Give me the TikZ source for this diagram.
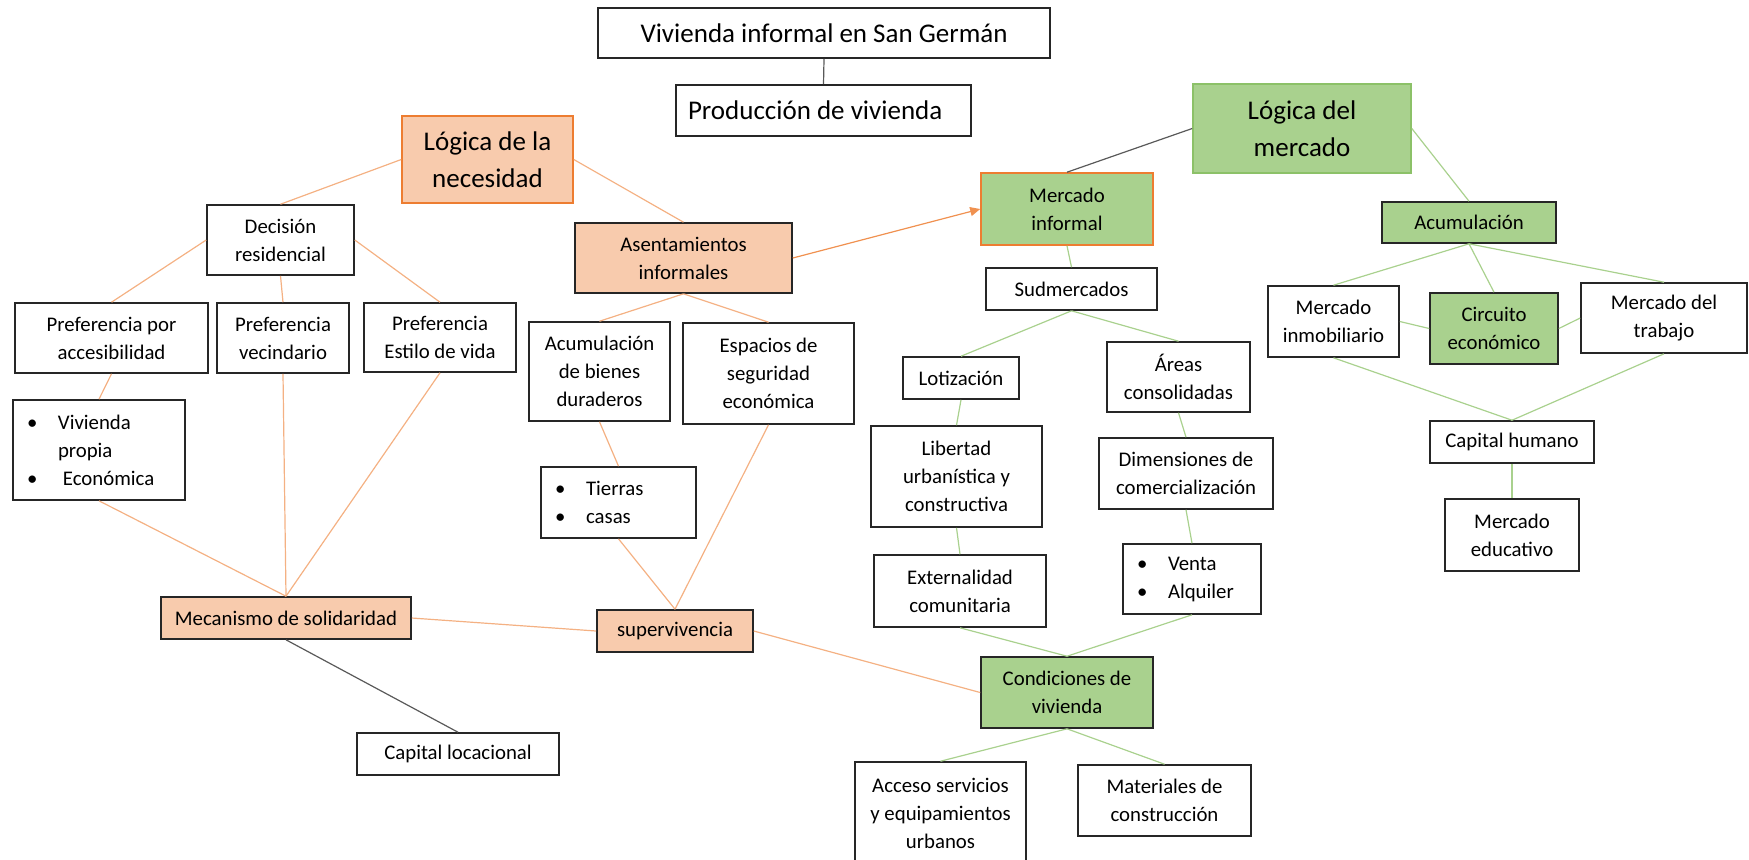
\documentclass[tikz,border=0pt]{standalone}
\usepackage{fontspec}
\setmainfont{Carlito}
\usetikzlibrary{arrows.meta}

\definecolor{naranja}{RGB}{237,125,49}
\definecolor{naranjaclaro}{RGB}{244,177,131}
\definecolor{durazno}{RGB}{248,203,173}
\definecolor{verde}{RGB}{169,209,142}
\definecolor{verdeborde}{RGB}{140,193,104}
\definecolor{gris}{RGB}{89,89,89}
\definecolor{borde}{RGB}{38,38,38}

\newcommand{\vineta}{\makebox[15.5pt][l]{\textbullet}}

\tikzset{every picture/.style={line width=0.75pt}}
\tikzset{
  caja/.style={draw=borde, fill=white, line width=0.8pt, align=center, inner sep=2pt,
    font=\fontsize{10.4}{14}\selectfont},
  grande/.style={font=\fontsize{13.5}{18.5}\selectfont},
  dim/.style 2 args={minimum width=#1*0.5pt, minimum height=#2*0.5pt},
  necesidad/.style={fill=durazno},
  mercado/.style={fill=verde},
  lnar/.style={draw=naranjaclaro, line width=0.6pt},
  lver/.style={draw=verde, line width=0.6pt},
  lgris/.style={draw=gris, line width=0.6pt},
}

\begin{document}
\begin{tikzpicture}[x=0.5pt,y=0.5pt,yscale=-1,xscale=1]
\useasboundingbox (0,0) rectangle (1749,859);

% Text Node
\node[caja, grande, dim={452}{50}] (titulo) at (824,33) {Vivienda informal en San Germán};
% Text Node
\node[caja, grande, dim={295}{51}, align=flush left, text width=135.5pt, inner xsep=6pt] (produccion) at (823.5,110.5) {Producción de vivienda};

%Shape: Rectangle  (logica de la necesidad)
\node[caja, grande, necesidad, draw=naranja, dim={171}{87}] (lnecesidad) at (487.5,159.5) {Lógica de la\\necesidad};
\node[caja, dim={147}{70}] (decision) at (280.5,240) {Decisión\\residencial};
\node[caja, dim={193}{70}] (paccesib) at (111.5,338) {Preferencia por\\accesibilidad};
\node[caja, dim={132}{70}] (pvecindario) at (283,338) {Preferencia\\vecindario};
\node[caja, dim={152}{69}] (pestilo) at (440,337.5) {Preferencia\\Estilo de vida};
\node[caja, dim={172}{100}, align=flush left, text width=72pt, inner xsep=7pt] (vpropia) at (99,450) {\vineta Vivienda\\\hspace*{15.5pt}propia\\\vineta\hspace{2.5pt}Económica};
\node[caja, necesidad, dim={250}{42}] (mecanismo) at (286,618) {Mecanismo de solidaridad};
\node[caja, dim={202}{42}] (caplocacional) at (458,754) {Capital locacional};
\node[caja, necesidad, dim={217}{70}] (asentamientos) at (683.5,258) {Asentamientos\\informales};
\node[caja, dim={141}{99}] (acumbienes) at (599.5,371.5) {Acumulación\\de bienes\\duraderos};
\node[caja, dim={171}{101}] (espacios) at (768.5,373.5) {Espacios de\\seguridad\\económica};
\node[caja, dim={155}{71}, align=flush left, text width=63.5pt, inner xsep=7pt] (tierras) at (618.5,502.5) {\vineta Tierras\\\vineta casas};
\node[caja, necesidad, dim={156}{42}] (supervivencia) at (675,631) {supervivencia};

%Shape: Rectangle  (logica del mercado)
\node[caja, mercado, draw=naranja, dim={172}{72}] (minformal) at (1067,209) {Mercado\\informal};
\node[caja, grande, mercado, draw=verdeborde, dim={218}{89}] (lmercado) at (1302,128.5) {Lógica del\\mercado};
\node[caja, dim={171}{42}] (sudmercados) at (1071.5,289) {Sudmercados};
\node[caja, dim={116}{42}] (lotizacion) at (961,378) {Lotización};
\node[caja, dim={143}{70}] (areas) at (1178.5,377) {Áreas\\consolidadas};
\node[caja, dim={171}{101}] (libertad) at (956.5,476.5) {Libertad\\urbanística y\\constructiva};
\node[caja, dim={174}{71}] (dimensiones) at (1186,473.5) {Dimensiones de\\comercialización};
\node[caja, dim={172}{72}] (externalidad) at (960,591) {Externalidad\\comunitaria};
\node[caja, dim={138}{70}, align=flush left, text width=55pt, inner xsep=7pt] (venta) at (1192,579) {\vineta Venta\\\vineta Alquiler};
\node[caja, mercado, dim={172}{71}] (condiciones) at (1067,692.5) {Condiciones de\\vivienda};
\node[caja, dim={171}{102}] (acceso) at (940.5,813) {Acceso servicios\\y equipamientos\\urbanos};
\node[caja, dim={173}{71}] (materiales) at (1164.5,800.5) {Materiales de\\construcción};
\node[caja, mercado, dim={174}{41}] (acumulacion) at (1469,222.5) {Acumulación};
\node[caja, dim={131}{71}] (minmobiliario) at (1333.5,321.5) {Mercado\\inmobiliario};
\node[caja, mercado, dim={128}{71}] (circuito) at (1494,328.5) {Circuito\\económico};
\node[caja, dim={166}{70}] (mtrabajo) at (1664,318) {Mercado del\\trabajo};
\node[caja, dim={164}{42}] (caphumano) at (1512,442) {Capital humano};
\node[caja, dim={134}{72}] (meducativo) at (1512,535) {Mercado\\educativo};

%Straight Lines
\draw[lgris] (titulo.south) -- (produccion.north);
\draw[lgris] (minformal.north) -- (lmercado.west);
\draw[lgris] (mecanismo.south) -- (caplocacional.north);

%Straight Lines
\draw[lnar] (lnecesidad.west) -- (decision.north);
\draw[lnar] (lnecesidad.east) -- (asentamientos.north);
\draw[lnar] (decision.west) -- (paccesib.north);
\draw[lnar] (decision.south) -- (pvecindario.north);
\draw[lnar] (decision.east) -- (pestilo.north);
\draw[lnar] (paccesib.south) -- (vpropia.north);
\draw[lnar] (vpropia.south) -- (mecanismo.north);
\draw[lnar] (pvecindario.south) -- (mecanismo.north);
\draw[lnar] (pestilo.south) -- (mecanismo.north);
\draw[lnar] (mecanismo.east) -- (supervivencia.west);
\draw[lnar] (asentamientos.south) -- (acumbienes.north);
\draw[lnar] (asentamientos.south) -- (espacios.north);
\draw[lnar] (acumbienes.south) -- (tierras.north);
\draw[lnar] (tierras.south) -- (supervivencia.north);
\draw[lnar] (espacios.south) -- (supervivencia.north);
\draw[lnar] (supervivencia.east) -- (condiciones.west);
\draw[naranja!85, line width=0.6pt, -{Triangle[length=5pt,width=4.5pt]}] (asentamientos.east) -- (minformal.west);

%Straight Lines
\draw[lver] (minformal.south) -- (sudmercados.north);
\draw[lver] (sudmercados.south) -- (lotizacion.north);
\draw[lver] (sudmercados.south) -- (areas.north);
\draw[lver] (lotizacion.south) -- (libertad.north);
\draw[lver] (areas.south) -- (dimensiones.north);
\draw[lver] (libertad.south) -- (externalidad.north);
\draw[lver] (dimensiones.south) -- (venta.north);
\draw[lver] (externalidad.south) -- (condiciones.north);
\draw[lver] (venta.south) -- (condiciones.north);
\draw[lver] (condiciones.south) -- (acceso.north);
\draw[lver] (condiciones.south) -- (materiales.north);
\draw[lver] (lmercado.east) -- (acumulacion.north);
\draw[lver] (acumulacion.south) -- (minmobiliario.north);
\draw[lver] (acumulacion.south) -- (circuito.north);
\draw[lver] (acumulacion.south) -- (mtrabajo.north);
\draw[lver] (minmobiliario.east) -- (circuito.west);
\draw[lver] (circuito.east) -- (mtrabajo.west);
\draw[lver] (minmobiliario.south) -- (caphumano.north);
\draw[lver] (mtrabajo.south) -- (caphumano.north);
\draw[lver] (caphumano.south) -- (meducativo.north);

\end{tikzpicture}
\end{document}
